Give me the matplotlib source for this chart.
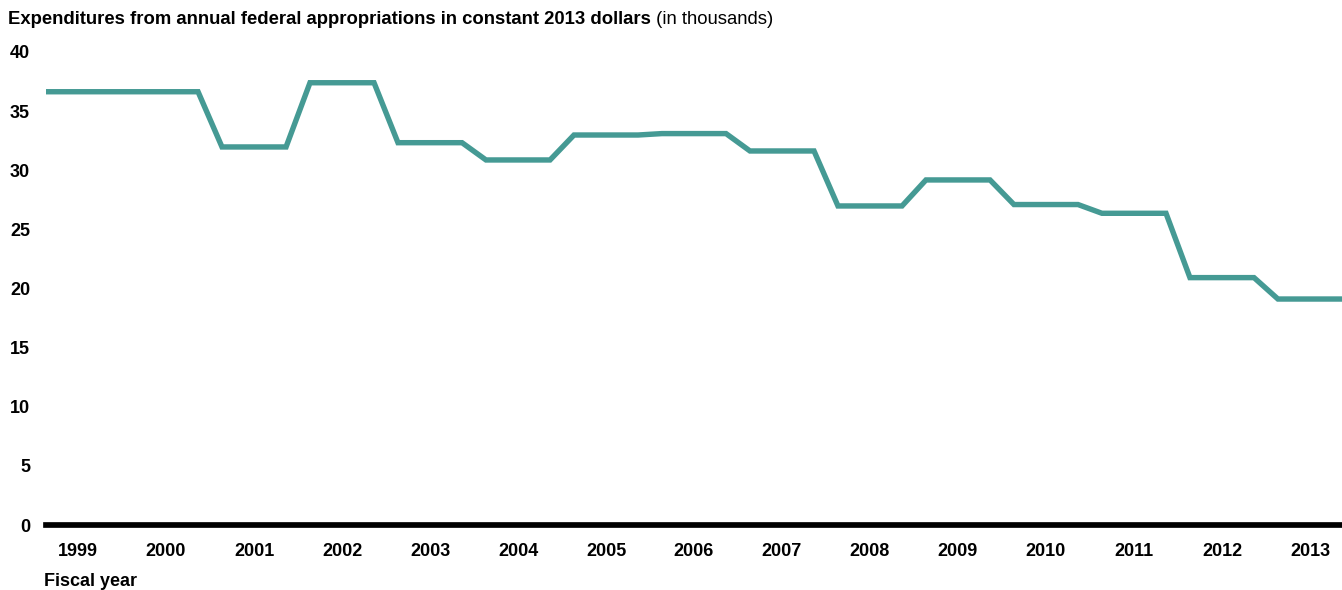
import matplotlib
matplotlib.use("Agg")
import matplotlib.pyplot as plt
import numpy as np

years = ["1999", "2000", "2001", "2002", "2003", "2004", "2005", "2006",
         "2007", "2008", "2009", "2010", "2011", "2012", "2013"]
values = [36.64, 36.64, 31.97, 37.40, 32.33, 30.87, 32.98, 33.10,
          31.63, 26.98, 29.18, 27.10, 26.36, 20.92, 19.11]
yticks = [0, 5, 10, 15, 20, 25, 30, 35, 40]

plt.rcParams['font.family'] = ['Liberation Sans', 'DejaVu Sans']

W, H = 1342, 590
fig = plt.figure(figsize=(W / 100, H / 100), dpi=100)
ax = fig.add_axes([46 / W, 1 - 525 / H, 1 - 46 / W, (525 - 52) / H])

half = 0.364
xs, ys = [], []
for i, v in enumerate(values):
    xs += [i - half, i + half]
    ys += [v, v]
ax.plot(xs, ys, color="#459a94", lw=3.9, solid_joinstyle="miter",
        solid_capstyle="butt", clip_on=False, zorder=3)

ax.set_xlim(-half, len(years) - 1 + half)
ax.set_ylim(0, 40)
ax.set_xticks(range(len(years)))
ax.set_xticklabels(years, fontsize=13, fontweight="bold")
ax.set_yticks(yticks)
ax.set_yticklabels([str(t) for t in yticks], fontsize=13, fontweight="bold")
ax.tick_params(axis="both", length=0)
ax.tick_params(axis="y", pad=11.5)
ax.tick_params(axis="x", pad=13)
for s in ["top", "right", "left"]:
    ax.spines[s].set_visible(False)
ax.spines["bottom"].set_linewidth(4.1)
ax.spines["bottom"].set_color("black")
ax.spines["bottom"].set_zorder(4)

t1 = fig.text(8 / W, 1 - 20 / H, "Expenditures from annual federal appropriations in constant 2013 dollars",
              fontsize=13.3, fontweight="bold", va="center", ha="left")
fig.canvas.draw()
bb = t1.get_window_extent()
fig.text(bb.x1 / W, 1 - 20 / H, " (in thousands)", fontsize=13.3, va="center", ha="left")

fig.text(44 / W, 1 - 581 / H, "Fiscal year", fontsize=13, fontweight="bold", va="center", ha="left")

fig.savefig("out.png", dpi=100)
